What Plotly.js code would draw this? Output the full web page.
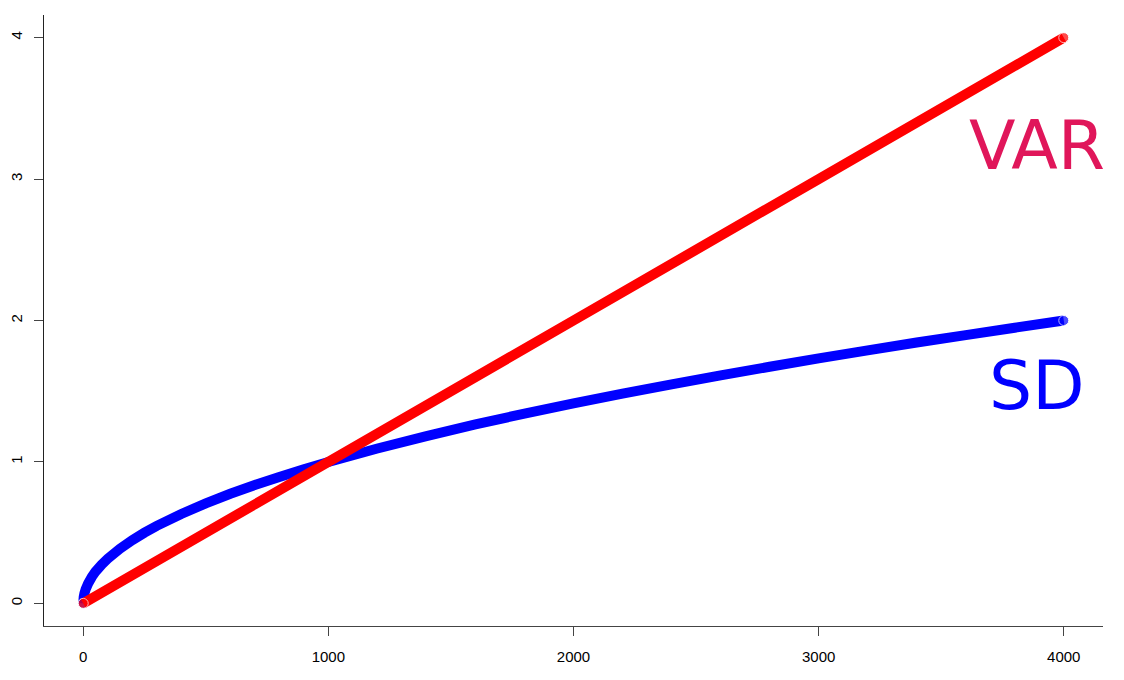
<!DOCTYPE html>
<html>
<head>
<meta charset="utf-8">
<script src="https://cdn.plot.ly/plotly-3.0.1.min.js"></script>
<style>html,body{margin:0;padding:0;background:#fff}#chart{width:1124px;height:680px}</style>
</head>
<body>
<div id="chart"></div>
<script>
// values
var sdX = [0, 2, 5, 10, 20, 35, 50, 75, 100, 150, 200, 250, 300, 400, 500, 600, 700, 800, 900, 1000, 1200, 1400, 1600, 1800, 2000, 2200, 2400, 2600, 2800, 3000, 3200, 3400, 3600, 3800, 4000];
var sdY = [0, 0.045, 0.071, 0.1, 0.141, 0.187, 0.224, 0.274, 0.316, 0.387, 0.447, 0.5, 0.548, 0.632, 0.707, 0.775, 0.837, 0.894, 0.949, 1.0, 1.095, 1.183, 1.265, 1.342, 1.414, 1.483, 1.549, 1.612, 1.673, 1.732, 1.789, 1.844, 1.897, 1.949, 2.0];
var varX = [0, 1000, 2000, 3000, 4000];
var varY = [0, 1, 2, 3, 4];
var xTicks = [0, 1000, 2000, 3000, 4000];
var yTicks = [0, 1, 2, 3, 4];
var labels = ["VAR", "SD"];
var labelX = [3890, 3890];
var labelY = [3.24, 1.54];

function endSizes(n) { var s = []; for (var i = 0; i < n; i++) s.push(i === 0 || i === n - 1 ? 10 : 0); return s; }

var traces = [
  {x: sdX, y: sdY, mode: 'lines+markers', line: {color: '#0000FF', width: 10, simplify: false},
   marker: {color: '#0000FF', size: endSizes(sdX.length)}, hoverinfo: 'skip'},
  {x: varX, y: varY, mode: 'lines+markers', line: {color: '#FF0000', width: 10, simplify: false},
   marker: {color: '#FF0000', size: endSizes(varX.length)}, hoverinfo: 'skip'}
];

var layout = {
  width: 1124, height: 680,
  margin: {l: 44, r: 21, t: 15, b: 54},
  paper_bgcolor: '#fff', plot_bgcolor: '#fff',
  showlegend: false,
  font: {family: 'Liberation Sans, Arial, sans-serif', size: 15, color: '#000'},
  xaxis: {
    range: [-160, 4160], tickvals: xTicks, ticktext: xTicks.map(String),
    tickfont: {family: 'Liberation Sans', size: 15, color: '#000'},
    showgrid: false, zeroline: false, showline: true, linecolor: '#444', linewidth: 1,
    ticks: 'outside', ticklen: 9, tickcolor: '#444', ticklabelstandoff: 8
  },
  yaxis: {
    range: [-0.16, 4.16], tickvals: yTicks, ticktext: yTicks.map(String),
    tickfont: {family: 'Liberation Sans', size: 15, color: '#000'},
    showgrid: false, zeroline: false, showline: true, linecolor: '#222', linewidth: 1,
    ticks: 'outside', ticklen: 9, tickcolor: '#444', tickangle: -90, ticklabelstandoff: 6
  },
  annotations: [
    {x: labelX[0], y: labelY[0], xref: 'x', yref: 'y', text: labels[0], showarrow: false, xanchor: 'center', yanchor: 'middle',
     font: {family: 'DejaVu Sans', size: 68, color: '#E0165A'}},
    {x: labelX[1], y: labelY[1], xref: 'x', yref: 'y', text: labels[1], showarrow: false, xanchor: 'center', yanchor: 'middle',
     font: {family: 'DejaVu Sans', size: 68, color: '#0000FF'}}
  ]
};
Plotly.newPlot('chart', traces, layout, {staticPlot: true});
</script>
</body>
</html>
